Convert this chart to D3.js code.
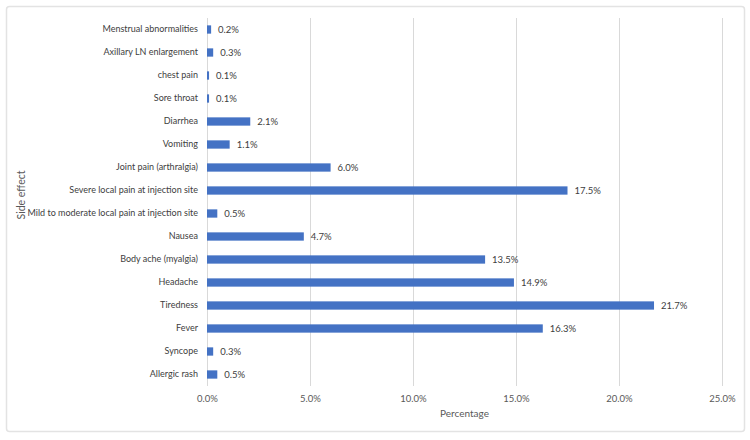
<!DOCTYPE html>
<html><head><meta charset="utf-8">
<script src="https://cdn.jsdelivr.net/npm/d3@7"></script>
<style>body{margin:0;background:#fff;} text{font-family:Lato, "Liberation Sans", sans-serif;}</style>
</head><body><svg id="c" width="750" height="440"></svg>
<script>
const categories = ["Menstrual abnormalities","Axillary LN enlargement","chest pain","Sore throat","Diarrhea","Vomiting","Joint pain (arthralgia)","Severe local pain at injection site","Mild to moderate local pain at injection site","Nausea","Body ache (myalgia)","Headache","Tiredness","Fever","Syncope","Allergic rash"];
const values = [0.2,0.3,0.1,0.1,2.1,1.1,6.0,17.5,0.5,4.7,13.5,14.9,21.7,16.3,0.3,0.5];
const xTicks = [0,5,10,15,20,25];
const xTitle = "Percentage";
const yTitle = "Side effect";

const svg = d3.select("#c");
svg.append("rect").attr("x",6.5).attr("y",6.5).attr("width",738).attr("height",425).attr("rx",3)
  .attr("fill","#fff").attr("stroke","#e3e3e3").attr("stroke-width",1.5);

const pL=207, pR=722, pT=18, pB=386;
const x = d3.scaleLinear().domain([0,25]).range([pL,pR]);
const y = d3.scaleBand().domain(categories).range([pT,pB]).paddingInner(0.64).paddingOuter(0.32);

// gridlines
svg.append("g").selectAll("line").data(xTicks).join("line")
  .attr("x1",d=>x(d)+0.5).attr("x2",d=>x(d)+0.5).attr("y1",pT).attr("y2",pB)
  .attr("stroke","#d9d9d9").attr("stroke-width",1);

// x axis
const xa = svg.append("g").attr("transform",`translate(0,${pB})`)
  .call(d3.axisBottom(x).tickValues(xTicks).tickFormat(d=>d.toFixed(1)+"%").tickSize(0).tickPadding(9));
xa.select(".domain").remove();
xa.selectAll("text").attr("fill","#595959").attr("font-size","9.5px");

// y axis
const ya = svg.append("g").attr("transform",`translate(${pL},0)`)
  .call(d3.axisLeft(y).tickSize(0).tickPadding(9));
ya.select(".domain").remove();
ya.selectAll("text").attr("fill","#404040").attr("font-size","9px");

// bars
svg.append("g").selectAll("rect").data(values).join("rect")
  .attr("x",x(0)).attr("y",(d,i)=>y(categories[i]))
  .attr("width",d=>x(d)-x(0)).attr("height",y.bandwidth())
  .attr("fill","#4472C4");

// value labels
svg.append("g").selectAll("text").data(values).join("text")
  .attr("x",d=>x(d)+7).attr("y",(d,i)=>y(categories[i])+y.bandwidth()/2)
  .attr("dy","0.35em").attr("font-size","9.5px").attr("fill","#404040")
  .text(d=>d.toFixed(1)+"%");

svg.append("text").attr("x",(pL+pR)/2).attr("y",417).attr("text-anchor","middle")
  .attr("font-size","10px").attr("fill","#595959").text(xTitle);
svg.append("text").attr("transform",`translate(25,195) rotate(-90)`)
  .attr("text-anchor","middle").attr("font-size","10.5px").attr("fill","#595959").text(yTitle);
</script></body></html>
